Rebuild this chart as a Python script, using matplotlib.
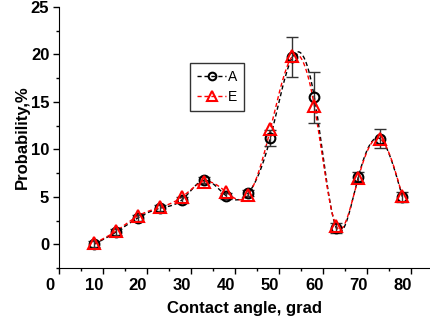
import numpy as np
import matplotlib
matplotlib.use("Agg")
import matplotlib.pyplot as plt
import matplotlib.transforms as mtransforms

# data
angle = [8, 13, 18, 23, 28, 33, 38, 43, 48, 53, 58, 63, 68, 73, 78]
prob_a = [0.0, 1.3, 2.8, 3.8, 4.7, 6.75, 5.1, 5.4, 11.2, 19.7, 15.5, 1.7, 7.1, 11.1, 5.0]
prob_e = [0.1, 1.4, 3.0, 3.9, 5.0, 6.6, 5.5, 5.2, 12.1, 19.8, 14.6, 1.9, 7.0, 11.1, 5.1]
err_a = [0.3, 0.3, 0.3, 0.3, 0.3, 0.3, 0.3, 0.3, 0.8, 2.1, 2.7, 0.5, 0.5, 1.0, 0.5]


def natural_spline(x, y, n=400):
    # plain natural cubic spline, just for the smooth connecting curve
    x = np.asarray(x, float)
    y = np.asarray(y, float)
    h = np.diff(x)
    m = len(x)
    A = np.zeros((m, m))
    b = np.zeros(m)
    A[0, 0] = A[-1, -1] = 1
    for i in range(1, m - 1):
        A[i, i - 1] = h[i - 1]
        A[i, i] = 2 * (h[i - 1] + h[i])
        A[i, i + 1] = h[i]
        b[i] = 6 * ((y[i + 1] - y[i]) / h[i] - (y[i] - y[i - 1]) / h[i - 1])
    M = np.linalg.solve(A, b)
    xs = np.linspace(x[0], x[-1], n)
    idx = np.clip(np.searchsorted(x, xs) - 1, 0, m - 2)
    dx = xs - x[idx]
    hi = h[idx]
    a = (M[idx + 1] - M[idx]) / (6 * hi)
    c = (y[idx + 1] - y[idx]) / hi - hi * (2 * M[idx] + M[idx + 1]) / 6
    ys = y[idx] + c * dx + M[idx] / 2 * dx ** 2 + a * dx ** 3
    return xs, ys


plt.rcParams["font.family"] = ["Liberation Sans", "DejaVu Sans"]

fig = plt.figure(figsize=(4.31, 3.25), dpi=100)
ax = fig.add_axes([59 / 431, 1 - 268 / 325, 1 - 59 / 431, (268 - 7) / 325])

dash = (0, (3, 2))
xs, ys = natural_spline(angle, prob_a)
ax.plot(xs, ys, color="black", lw=1, linestyle=dash)
xs, ys = natural_spline(angle, prob_e)
ax.plot(xs, ys, color="red", lw=1, linestyle=dash)

ax.errorbar(angle, prob_a, yerr=err_a, fmt="none", ecolor="#333333",
            elinewidth=1, capsize=4, capthick=1)
ax.plot(angle, prob_a, "o", ms=7, mfc="none", mec="black", mew=1.5)
ax.plot(angle, prob_e, "^", ms=8, mfc="none", mec="red", mew=1.5)

# legend handles
ha, = ax.plot([], [], color="black", lw=1, linestyle=dash, marker="o",
              ms=5.5, mfc="none", mec="black", mew=1.5)
he, = ax.plot([], [], color="red", lw=1, linestyle=dash, marker="^",
              ms=6.5, mfc="none", mec="red", mew=1.5)
leg = ax.legend([ha, he], ["A", "E"], loc="upper left",
                bbox_to_anchor=((190 - 59) / 372, 1 - (63 - 7) / 261),
                frameon=True, fancybox=False, edgecolor="black",
                handlelength=2.1, handletextpad=0.15, borderpad=0.5,
                labelspacing=0.45, fontsize=10, borderaxespad=0)
leg.get_frame().set_linewidth(1)

ax.set_xlim(0, 84.5)
ax.set_ylim(-2.5, 25)
ax.set_xticks([0, 10, 20, 30, 40, 50, 60, 70, 80])
ax.set_xticks(np.arange(5, 85, 10), minor=True)
ax.set_yticks([0, 5, 10, 15, 20, 25])
ax.set_yticks([-2.5, 2.5, 7.5, 12.5, 17.5, 22.5], minor=True)
for s in ["top", "right"]:
    ax.spines[s].set_visible(False)
ax.tick_params(which="major", direction="out", length=4, width=1,
               labelsize=12, pad=3)
ax.tick_params(which="minor", direction="out", length=2.5, width=1)
for lab in ax.get_xticklabels() + ax.get_yticklabels():
    lab.set_fontweight("bold")

# x tick labels sit a little left of their ticks in the reference
shift = mtransforms.ScaledTranslation(-9 / 100, 0, fig.dpi_scale_trans)
for lab in ax.get_xticklabels():
    lab.set_transform(lab.get_transform() + shift)

ax.set_xlabel("Contact angle, grad", fontsize=12, fontweight="bold", labelpad=6)
ax.set_ylabel("Probability,%", fontsize=12, fontweight="bold", labelpad=1)

fig.savefig("out.png", dpi=100)
